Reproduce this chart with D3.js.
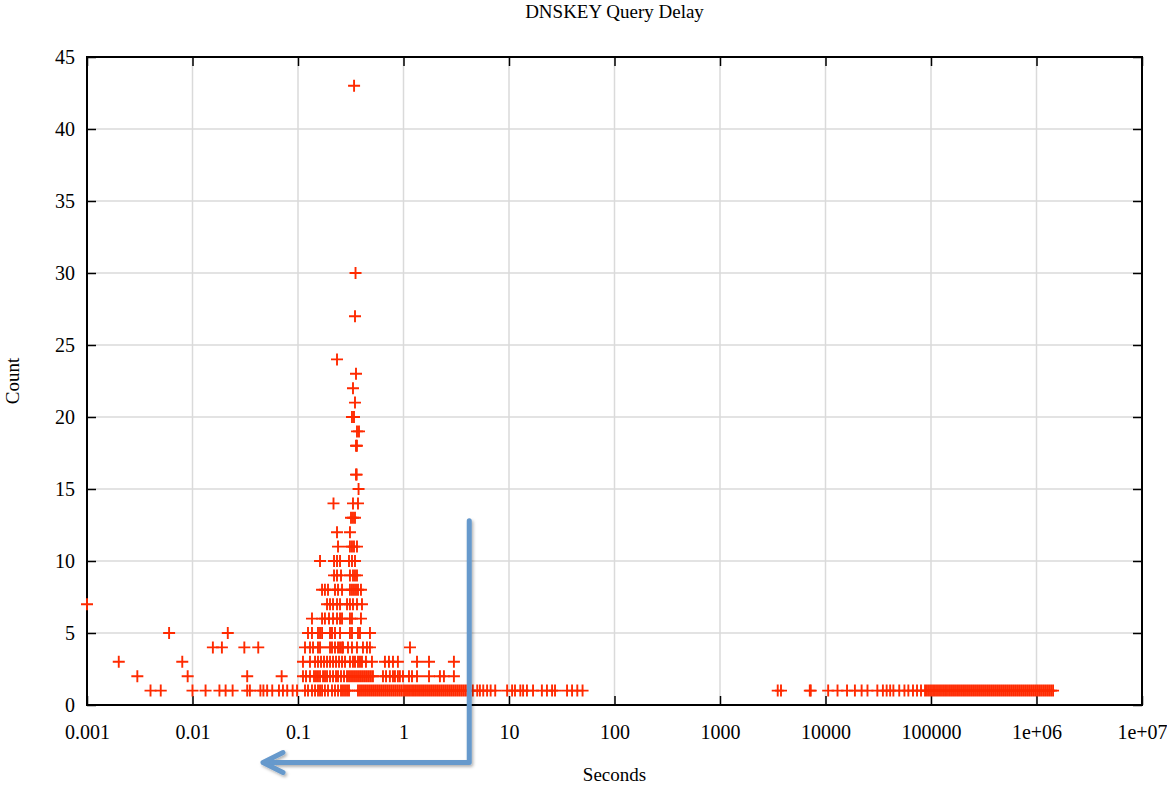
<!DOCTYPE html>
<html>
<head>
<meta charset="utf-8">
<script src="https://cdn.jsdelivr.net/npm/d3@7"></script>
<style>
  body { margin: 0; background: #fff; }
  svg text { font-family: "Liberation Serif", "Times New Roman", serif; fill: #000; }
</style>
</head>
<body>
<script>
var width = 1167,
    height = 785;

// x tick values and their gnuplot-style labels
var xTicks = [0.001, 0.01, 0.1, 1, 10, 100, 1000, 10000, 100000, 1e6, 1e7];
var xTickLabels = ["0.001", "0.01", "0.1", "1", "10", "100", "1000", "10000", "100000", "1e+06", "1e+07"];
var yTicks = [0, 5, 10, 15, 20, 25, 30, 35, 40, 45];

// delays (seconds) seen with a given count
var secondsAt1 = [0.004, 0.005, 0.01, 0.0133, 0.018, 0.0206, 0.024, 0.033, 0.035, 0.044, 0.047, 0.051, 0.057,
  0.066, 0.072, 0.079, 0.089, 0.098,
  0.1165, 0.1244, 0.1357, 0.145, 0.1547, 0.1617, 0.169, 0.18, 0.1925, 0.21, 0.2242, 0.2395, 0.2557, 0.267,
  0.279, 0.2915, 0.3044,
  0.3704, 0.3869, 0.4041, 0.4221, 0.4408, 0.4605, 0.481, 0.5024, 0.5247, 0.548, 0.5724, 0.5979, 0.6245,
  0.6523, 0.6813, 0.7116, 0.7433, 0.7763, 0.8109, 0.8469, 0.8846, 0.924, 0.965, 1.011, 1.056, 1.103, 1.152,
  1.204, 1.257, 1.313, 1.372, 1.433, 1.497, 1.563, 1.633, 1.706, 1.782, 1.861, 1.944, 2.031, 2.121, 2.215,
  2.314, 2.417, 2.525, 2.637, 2.755, 2.877, 3.005, 3.139, 3.279, 3.425, 3.578, 3.737, 3.903, 4.27, 4.54,
  5.0, 5.3, 5.7, 6.2, 6.7, 7.4, 9.6, 10.7, 11.4, 12.8, 13.6, 14.8, 16.9, 20.5, 22.9, 25.6, 27.3, 35.5, 39.6,
  44.4, 49.8,
  3525, 3786, 7100, 7250, 10600, 13000, 16000, 19000, 22000, 25000, 31000, 35000, 38000, 41000, 44000,
  50000, 56000, 61000, 67500, 73700, 80400, 87800, 91600, 95700, 100000, 104500, 109100, 114000, 119100,
  124400, 130000, 135800, 141800, 148200, 154800, 161700, 168900, 176500, 184300, 192600, 201200, 210100,
  219500, 229300, 239600, 250300, 261400, 273100, 285300, 298000, 311300, 325200, 339800, 354900, 370800,
  387300, 404600, 422700, 441500, 461200, 481800, 503300, 525800, 549300, 573800, 599400, 626100, 654100,
  683300, 713800, 745600, 778900, 813700, 850000, 887900, 927500, 968900, 1012000, 1057000, 1104000,
  1154000, 1205000, 1259000, 1315000, 1374000, 1435000];
var secondsAt2 = [0.003, 0.009, 0.033, 0.07, 0.1115, 0.1191, 0.1299, 0.1418, 0.1481, 0.1547, 0.1617, 0.1727,
  0.1803, 0.1884, 0.2011, 0.2148, 0.2293, 0.2395, 0.2557, 0.273, 0.2915, 0.3044, 0.318, 0.3321, 0.3469,
  0.3624, 0.3785, 0.3953, 0.4129, 0.4313, 0.4505, 0.4705, 0.4915, 0.5134, 0.639, 0.683, 0.743, 0.795, 0.83,
  0.885, 0.924, 0.989, 1.127, 1.204, 1.343, 1.745, 2.215, 2.417, 3.005];
var secondsAt3 = [0.002, 0.008, 0.1115, 0.1299, 0.145, 0.1547, 0.1653, 0.1764, 0.1884, 0.2011, 0.2148, 0.2293,
  0.2448, 0.2614, 0.279, 0.3108, 0.3321, 0.3469, 0.3704, 0.3869, 0.4041, 0.4408, 0.5024, 0.667, 0.728, 0.795,
  0.885, 1.343, 1.745, 3.005];
var secondsAt4 = [0.0156, 0.019, 0.031, 0.042, 0.1165, 0.1299, 0.1388, 0.1547, 0.1617, 0.2011, 0.21, 0.2242,
  0.2395, 0.2502, 0.2614, 0.267, 0.2978, 0.3249, 0.3624, 0.4129, 0.4505, 0.481, 1.152];
var secondsAt5 = [0.006, 0.0216, 0.1244, 0.1357, 0.1547, 0.1617, 0.169, 0.2011, 0.21, 0.2242, 0.2502, 0.3108,
  0.3249, 0.3704, 0.3869, 0.481];
var secondsAt6 = [0.1357, 0.169, 0.18, 0.1967, 0.2148, 0.2343, 0.2502, 0.2614, 0.3108, 0.3249, 0.3953];
var secondsAt7 = [0.001, 0.1884, 0.2011, 0.2148, 0.2343, 0.2502, 0.2915, 0.3108, 0.3321, 0.3624, 0.4041];
var secondsAt8 = [0.169, 0.18, 0.1925, 0.2242, 0.2395, 0.2614, 0.3108, 0.3249, 0.3394, 0.3546, 0.3704, 0.3953];
var secondsAt9 = [0.2195, 0.2343, 0.2557, 0.3108, 0.3321, 0.3469, 0.3624];
var secondsAt10 = [0.1617, 0.2195, 0.2343, 0.2502, 0.3044, 0.3249, 0.3469];
var secondsAt11 = [0.2395, 0.3108, 0.3249, 0.3394, 0.3624];
var secondsAt12 = [0.2343, 0.3108];
var secondsAt13 = [0.318, 0.3321, 0.3469];
var secondsAt14 = [0.217, 0.3321, 0.3704];
var secondsAt15 = [0.375];
var secondsAt16 = [0.3546, 0.36];
var secondsAt18 = [0.3546, 0.362];
var secondsAt19 = [0.3624, 0.3785];
var secondsAt20 = [0.3249, 0.3394];
var secondsAt21 = [0.3469];
var secondsAt22 = [0.3321];
var secondsAt23 = [0.3546];
var secondsAt24 = [0.2343];
var secondsAt27 = [0.347];
var secondsAt30 = [0.351];
var secondsAt43 = [0.34];

var counts = [1, 2, 3, 4, 5, 6, 7, 8, 9, 10, 11, 12, 13, 14, 15, 16, 18, 19, 20, 21, 22, 23, 24, 27, 30, 43];
var secondsByCount = [secondsAt1, secondsAt2, secondsAt3, secondsAt4, secondsAt5, secondsAt6, secondsAt7,
  secondsAt8, secondsAt9, secondsAt10, secondsAt11, secondsAt12, secondsAt13, secondsAt14, secondsAt15,
  secondsAt16, secondsAt18, secondsAt19, secondsAt20, secondsAt21, secondsAt22, secondsAt23, secondsAt24,
  secondsAt27, secondsAt30, secondsAt43];

// annotation arrow (seconds / count space)
var arrowSeconds = 4.2, arrowTopCount = 12.8, arrowBottomCount = -4, arrowTipSeconds = 0.0466;

var points = [];
counts.forEach(function (c, i) {
    secondsByCount[i].forEach(function (s) { points.push({ seconds: s, count: c }); });
});

var plotLeft = 87, plotRight = 1142, plotTop = 57, plotBottom = 705;

var x = d3.scaleLog().domain([0.001, 1e7]).range([plotLeft, plotRight]);
var y = d3.scaleLinear().domain([0, 45]).range([plotBottom, plotTop]);

var svg = d3.select("body").append("svg")
    .attr("width", width)
    .attr("height", height);

// grid
svg.append("g").selectAll("line").data(xTicks.slice(1, -1))
    .enter().append("line")
    .attr("x1", function (d) { return x(d); }).attr("x2", function (d) { return x(d); })
    .attr("y1", plotTop).attr("y2", plotBottom)
    .style("stroke", "#dadada").style("stroke-width", 1.5);
svg.append("g").selectAll("line").data(yTicks.slice(1, -1))
    .enter().append("line")
    .attr("y1", function (d) { return y(d); }).attr("y2", function (d) { return y(d); })
    .attr("x1", plotLeft).attr("x2", plotRight)
    .style("stroke", "#dadada").style("stroke-width", 1.5);

// axes with inward ticks
svg.append("g").attr("transform", "translate(0," + plotBottom + ")")
    .call(d3.axisBottom(x).tickValues(xTicks)
        .tickFormat(function (d, i) { return xTickLabels[i]; })
        .tickSize(-9).tickPadding(20));
svg.append("g").attr("transform", "translate(0," + plotTop + ")")
    .call(d3.axisTop(x).tickValues(xTicks).tickFormat("").tickSize(-9));
svg.append("g").attr("transform", "translate(" + plotLeft + ",0)")
    .call(d3.axisLeft(y).tickValues(yTicks).tickSize(-9).tickPadding(12));
svg.append("g").attr("transform", "translate(" + plotRight + ",0)")
    .call(d3.axisRight(y).tickValues(yTicks).tickFormat("").tickSize(-9));

svg.selectAll(".domain").remove();
svg.selectAll(".tick line").style("stroke", "#000").style("stroke-width", 1.5);
svg.selectAll(".tick text").style("font-size", "20px").style("font-family", "Liberation Serif, serif");

// frame
svg.append("rect")
    .attr("x", plotLeft).attr("y", plotTop)
    .attr("width", plotRight - plotLeft).attr("height", plotBottom - plotTop)
    .style("fill", "none").style("stroke", "#000").style("stroke-width", 2);

// points
svg.append("g").selectAll("path").data(points)
    .enter().append("path")
    .attr("transform", function (d) { return "translate(" + x(d.seconds) + "," + y(d.count) + ")"; })
    .attr("d", "M-6,0H6M0,-6V6")
    .style("stroke", "#ff2a00").style("stroke-width", 1.9).style("fill", "none");

// titles
svg.append("text").attr("x", (plotLeft + plotRight) / 2).attr("y", 18)
    .attr("text-anchor", "middle").style("font-size", "19px")
    .text("DNSKEY Query Delay");
svg.append("text").attr("x", (plotLeft + plotRight) / 2).attr("y", 781)
    .attr("text-anchor", "middle").style("font-size", "19px")
    .text("Seconds");
svg.append("text").attr("transform", "translate(19," + ((plotTop + plotBottom) / 2) + ") rotate(-90)")
    .attr("text-anchor", "middle").style("font-size", "19px")
    .text("Count");

// annotation arrow
var defs = svg.append("defs");
var f = defs.append("filter").attr("id", "shadow").attr("x", "-20%").attr("y", "-20%").attr("width", "140%").attr("height", "140%");
f.append("feDropShadow").attr("dx", 1.5).attr("dy", 2).attr("stdDeviation", 1.5).attr("flood-color", "#000").attr("flood-opacity", 0.3);

var ax = x(arrowSeconds), ayTop = y(arrowTopCount), ayBot = y(arrowBottomCount), tipX = x(arrowTipSeconds);
var arrow = svg.append("g").attr("filter", "url(#shadow)")
    .style("fill", "none").style("stroke", "#6699cc").style("stroke-width", 5)
    .style("stroke-linejoin", "round").style("stroke-linecap", "round");
arrow.append("path")
    .attr("d", "M" + ax + "," + ayTop + "V" + ayBot + "H" + (tipX + 2));
arrow.append("path")
    .attr("d", "M" + (tipX + 20) + "," + (ayBot - 10) + "L" + tipX + "," + ayBot + "L" + (tipX + 20) + "," + (ayBot + 10));
</script>
</body>
</html>
